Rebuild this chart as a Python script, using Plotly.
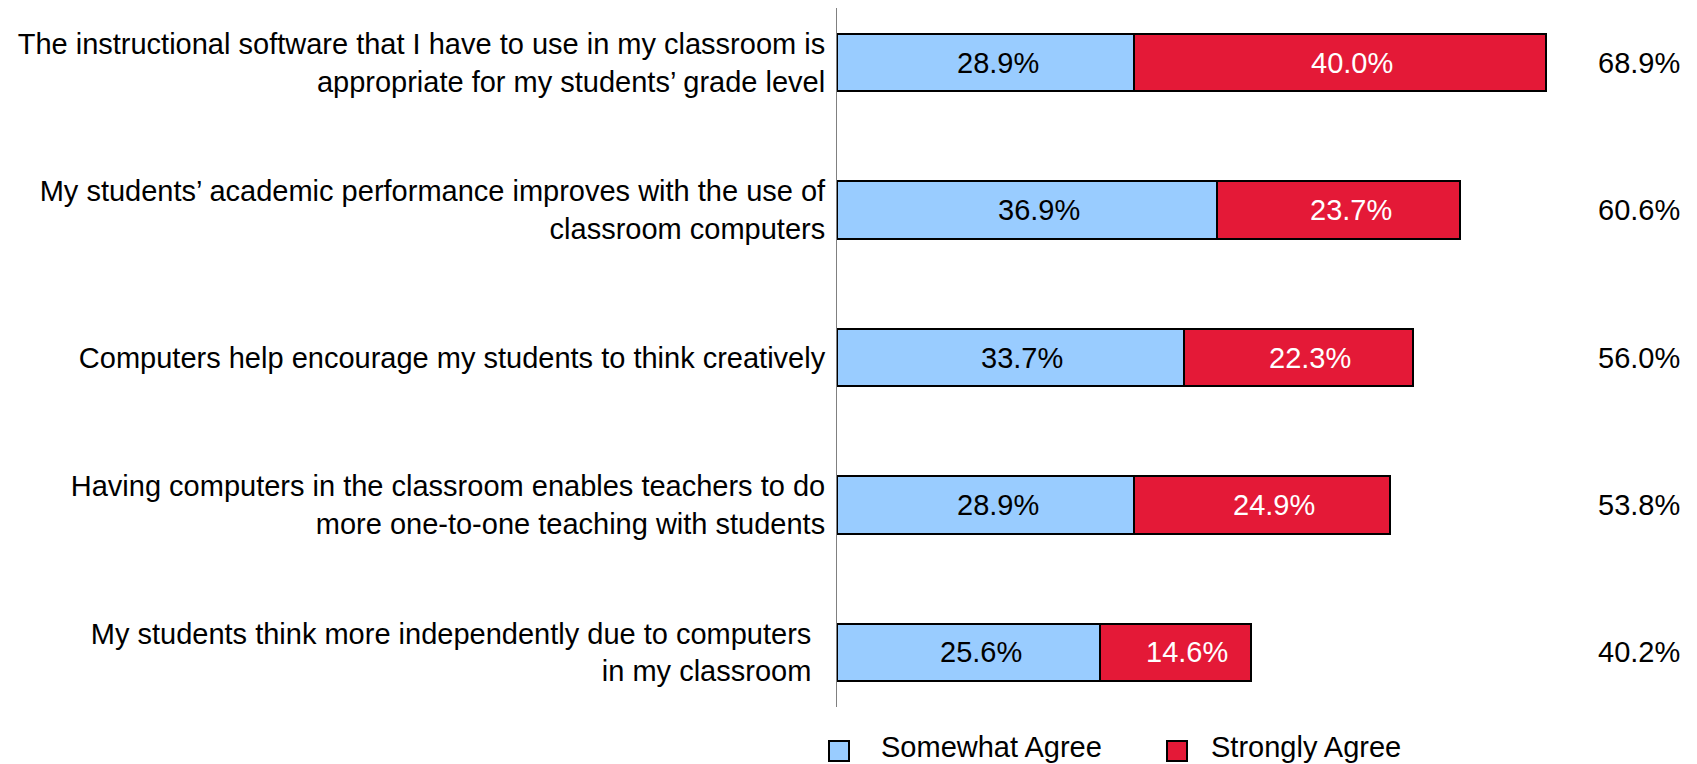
import plotly.graph_objects as go

# Survey statements (top to bottom) and the share of teachers agreeing
statements = [
    "The instructional software that I have to use in my classroom is<br>appropriate for my students’ grade level",
    "My students’ academic performance improves with the use of<br>classroom computers",
    "Computers help encourage my students to think creatively",
    "Having computers in the classroom enables teachers to do<br>more one-to-one teaching with students",
    "My students think more independently due to computers\u00a0\u2009<br>in my classroom\u00a0\u2009",
]
somewhat_agree = [28.9, 36.9, 33.7, 28.9, 25.6]
strongly_agree = [40.0, 23.7, 22.3, 24.9, 14.6]
series_names = ["Somewhat Agree", "Strongly Agree"]

BLUE = "#99CCFF"
RED = "#E41937"
FONT = "Arial, Liberation Sans, sans-serif"
FS = 29

W, H = 1697, 764
ML, MR, MT, MB = 837, 37, 8, 57
PW, PH = W - ML - MR, H - MT - MB


def px(xp, yp):
    """Convert page pixel coordinates into paper coordinates."""
    return (xp - ML) / PW, (H - MB - yp) / PH


fig = go.Figure()
idx = list(range(len(statements)))

fig.add_trace(go.Bar(
    y=idx, x=somewhat_agree, orientation="h", name=series_names[0],
    marker=dict(color=BLUE, line=dict(color="black", width=2)),
    showlegend=False, hoverinfo="skip",
))
fig.add_trace(go.Bar(
    y=idx, x=strongly_agree, orientation="h", name=series_names[1],
    marker=dict(color=RED, line=dict(color="black", width=2)),
    showlegend=False, hoverinfo="skip",
))

annotations = []
for i, (a, b) in enumerate(zip(somewhat_agree, strongly_agree)):
    # segment value labels
    annotations.append(dict(x=a / 2, y=i, xref="x", yref="y", text=f"{a:.1f}%",
                            showarrow=False, xshift=12,
                            font=dict(family=FONT, size=FS, color="black")))
    annotations.append(dict(x=a + b / 2, y=i, xref="x", yref="y", text=f"{b:.1f}%",
                            showarrow=False, xshift=12,
                            font=dict(family=FONT, size=FS, color="white")))
    # total agreement on the right
    annotations.append(dict(x=78, y=i, xref="x", yref="y", text=f"{a + b:.1f}%",
                            showarrow=False, xanchor="center",
                            font=dict(family=FONT, size=FS, color="black")))

# legend drawn below the bars
shapes = []
for (sx, tx), name, col in zip([(829, 879), (1167, 1209)], series_names, [BLUE, RED]):
    x0, y0 = px(sx, 761)
    x1, y1 = px(sx + 20, 741)
    shapes.append(dict(type="rect", xref="paper", yref="paper", x0=x0, x1=x1, y0=y0, y1=y1,
                       fillcolor=col, line=dict(color="black", width=2)))
    ax, ay = px(tx, 747)
    annotations.append(dict(x=ax, y=ay, xref="paper", yref="paper", text=name,
                            showarrow=False, xanchor="left", yanchor="middle",
                            font=dict(family=FONT, size=FS, color="black")))

fig.update_layout(
    width=W, height=H,
    margin=dict(l=ML, r=MR, t=MT, b=MB, pad=0),
    barmode="stack", bargap=0.61,
    plot_bgcolor="white", paper_bgcolor="white",
    font=dict(family=FONT, size=FS, color="black"),
    annotations=annotations, shapes=shapes,
    showlegend=False,
)
fig.update_xaxes(range=[0, 80], visible=False, showgrid=False, zeroline=False)
fig.update_yaxes(
    range=[4.37, -0.37], tickmode="array", tickvals=idx, ticktext=statements,
    showline=True, linecolor="#808080", linewidth=1, ticks="", showgrid=False,
    zeroline=False, ticklabelstandoff=5,
    tickfont=dict(family=FONT, size=FS, color="black"),
)

fig.write_html("out.html")
